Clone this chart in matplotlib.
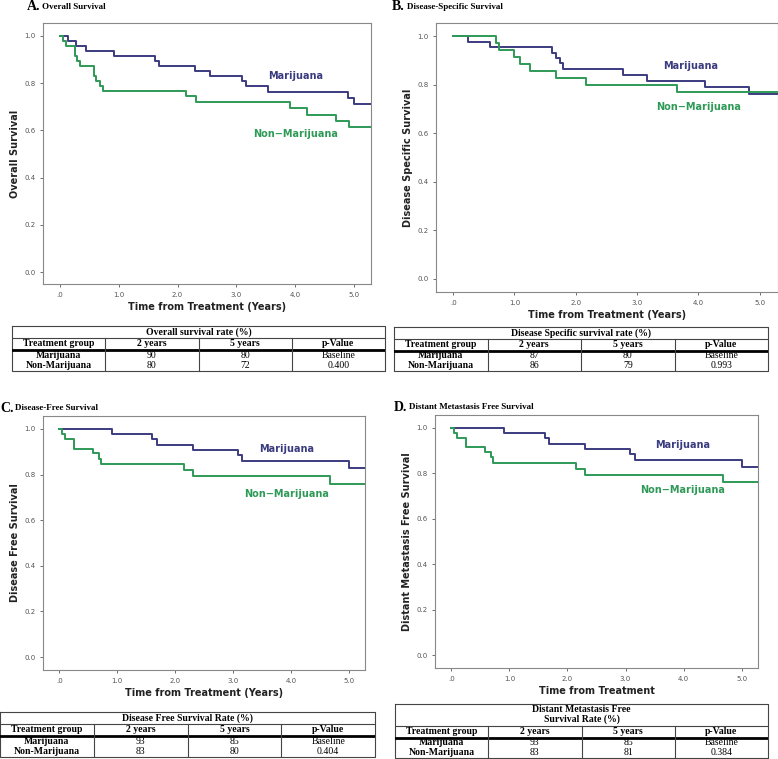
import matplotlib
matplotlib.use("Agg")
import matplotlib.pyplot as plt

W, H = 778, 759
MAR_C = "#3b3b80"
NON_C = "#2f9a57"

# ---- data ----
a_mar_t = [0, 0.15, 0.28, 0.45, 0.93, 1.62, 1.69, 2.30, 2.55, 3.09, 3.16, 3.54, 4.89, 5.00]
a_mar_s = [1.0, 0.979, 0.958, 0.937, 0.916, 0.895, 0.874, 0.853, 0.832, 0.811, 0.789, 0.763, 0.736, 0.710]
a_non_t = [0, 0.06, 0.11, 0.26, 0.30, 0.34, 0.59, 0.61, 0.68, 0.73, 2.15, 2.31, 3.90, 4.19, 4.68, 4.91]
a_non_s = [1.0, 0.979, 0.958, 0.916, 0.895, 0.874, 0.832, 0.811, 0.787, 0.766, 0.745, 0.719, 0.694, 0.667, 0.640, 0.613]

b_mar_t = [0, 0.25, 0.60, 1.61, 1.67, 1.75, 1.80, 2.77, 3.16, 4.11, 4.83]
b_mar_s = [1.0, 0.977, 0.955, 0.932, 0.910, 0.888, 0.865, 0.841, 0.816, 0.790, 0.763]
b_non_t = [0, 0.70, 0.74, 0.99, 1.09, 1.25, 1.68, 2.17, 3.65]
b_non_s = [1.0, 0.971, 0.943, 0.914, 0.886, 0.857, 0.829, 0.800, 0.770]

c_mar_t = [0, 0.91, 1.61, 1.68, 2.31, 3.08, 3.16, 5.00]
c_mar_s = [1.0, 0.977, 0.955, 0.930, 0.908, 0.884, 0.860, 0.830]
c_non_t = [0, 0.05, 0.10, 0.26, 0.58, 0.69, 0.72, 2.15, 2.31, 4.68]
c_non_s = [1.0, 0.978, 0.957, 0.914, 0.893, 0.870, 0.846, 0.820, 0.793, 0.760]

d_mar_t = [0, 0.91, 1.61, 1.68, 2.31, 3.08, 3.16, 5.00]
d_mar_s = [1.0, 0.977, 0.955, 0.930, 0.908, 0.884, 0.860, 0.830]
d_non_t = [0, 0.05, 0.10, 0.26, 0.58, 0.69, 0.72, 2.15, 2.31, 4.68]
d_non_s = [1.0, 0.978, 0.957, 0.914, 0.893, 0.870, 0.846, 0.820, 0.793, 0.760]

x_ticks = [0, 1, 2, 3, 4, 5]
x_tick_labels = [".0", "1.0", "2.0", "3.0", "4.0", "5.0"]
y_ticks = [0.0, 0.2, 0.4, 0.6, 0.8, 1.0]
y_tick_labels = ["0.0", "0.2", "0.4", "0.6", "0.8", "1.0"]

groups = ["Marijuana", "Non-Marijuana"]
a_2y = ["90", "80"]; a_5y = ["80", "72"]; a_p = ["Baseline", "0.400"]
b_2y = ["87", "86"]; b_5y = ["80", "79"]; b_p = ["Baseline", "0.993"]
c_2y = ["93", "83"]; c_5y = ["85", "80"]; c_p = ["Baseline", "0.404"]
d_2y = ["93", "83"]; d_5y = ["85", "81"]; d_p = ["Baseline", "0.384"]

fig = plt.figure(figsize=(W / 100, H / 100), dpi=100)

def rect(x0, y0, x1, y1):
    return [x0 / W, 1 - y1 / H, (x1 - x0) / W, (y1 - y0) / H]

def panel(box, xlim, ylim, mt, ms, nt, ns, ylabel, xlabel, mpos, npos):
    ax = fig.add_axes(rect(*box))
    ax.step(mt + [xlim[1]], ms + [ms[-1]], where="post", color=MAR_C, lw=1.4)
    ax.step(nt + [xlim[1]], ns + [ns[-1]], where="post", color=NON_C, lw=1.4)
    ax.set_xlim(*xlim); ax.set_ylim(*ylim)
    ax.set_xticks(x_ticks); ax.set_xticklabels(x_tick_labels)
    ax.set_yticks(y_ticks); ax.set_yticklabels(y_tick_labels)
    ax.tick_params(labelsize=5, colors="#555555", length=2, width=0.6)
    for s in ax.spines.values():
        s.set_color("#888888"); s.set_linewidth(0.8)
    ax.set_ylabel(ylabel, fontsize=7, fontweight="bold", color="#222222", labelpad=3)
    ax.set_xlabel(xlabel, fontsize=7, fontweight="bold", color="#222222", labelpad=3)
    ax.text(mpos[0], mpos[1], "Marijuana", color=MAR_C, fontsize=7, fontweight="bold", ha="center", va="center")
    ax.text(npos[0], npos[1], "Non\u2212Marijuana", color=NON_C, fontsize=7, fontweight="bold", ha="center", va="center")

def title(x, y, letter, text):
    fig.text(x / W, 1 - y / H, letter, fontsize=10, fontweight="bold", family="Liberation Serif", va="center")
    fig.text((x + 15) / W, 1 - y / H, text, fontsize=6.5, fontweight="bold", family="Liberation Serif", va="center")

def table(box, ttl, nt_rows, two, five, pv):
    x0, y0, x1, y1 = box
    ax = fig.add_axes(rect(x0, y0, x1, y1))
    h = y1 - y0
    ax.set_xlim(0, 1); ax.set_ylim(h, 0); ax.axis("off")
    th = 12 * nt_rows
    hh = 12
    kw = dict(family="Liberation Serif", fontsize=7, ha="center", va="center")
    lc = "#444444"
    ax.plot([0, 1, 1, 0, 0], [0, 0, h, h, 0], color=lc, lw=0.8, clip_on=False)
    ax.plot([0, 1], [th, th], color=lc, lw=0.8)
    ax.plot([0, 1], [th + hh, th + hh], color="black", lw=2)
    for cx in [0.25, 0.5, 0.75]:
        ax.plot([cx, cx], [th, h], color=lc, lw=0.8)
    ax.text(0.5, th / 2, ttl, fontweight="bold", linespacing=1.1, **kw)
    for cx, t in zip([0.125, 0.375, 0.625, 0.875], ["Treatment group", "2 years", "5 years", "p-Value"]):
        ax.text(cx, th + hh / 2, t, fontweight="bold", **kw)
    rh = (h - th - hh) / 2
    for i in range(2):
        yy = th + hh + rh * (i + 0.5)
        ax.text(0.125, yy, groups[i], fontweight="bold", **kw)
        ax.text(0.375, yy, two[i], **kw)
        ax.text(0.625, yy, five[i], **kw)
        ax.text(0.875, yy, pv[i], **kw)

xl = "Time from Treatment (Years)"
panel((43, 23, 371, 284), (-0.28, 5.28), (-0.05, 1.055), a_mar_t, a_mar_s, a_non_t, a_non_s,
      "Overall Survival", xl, (4.0, 0.83), (4.0, 0.585))
panel((436, 23, 778, 292), (-0.28, 5.3), (-0.054, 1.054), b_mar_t, b_mar_s, b_non_t, b_non_s,
      "Disease Specific Survival", xl, (3.87, 0.876), (4.0, 0.71))
panel((43, 416, 365, 670), (-0.28, 5.28), (-0.057, 1.057), c_mar_t, c_mar_s, c_non_t, c_non_s,
      "Disease Free Survival", xl, (3.92, 0.911), (3.92, 0.716))
panel((435, 415, 758, 668), (-0.28, 5.28), (-0.057, 1.057), d_mar_t, d_mar_s, d_non_t, d_non_s,
      "Distant Metastasis Free Survival", "Time from Treatment", (3.98, 0.924), (3.98, 0.727))

title(27, 7, "A.", "Overall Survival")
title(392, 7, "B.", "Disease-Specific Survival")
title(0, 408, "C.", "Disease-Free Survival")
title(394, 407, "D.", "Distant Metastasis Free Survival")

table((12, 326, 385, 371), "Overall survival rate (%)", 1, a_2y, a_5y, a_p)
table((394, 327, 768, 371), "Disease Specific survival rate (%)", 1, b_2y, b_5y, b_p)
table((0, 712, 375, 757), "Disease Free Survival Rate (%)", 1, c_2y, c_5y, c_p)
table((395, 704, 768, 758), "Distant Metastasis Free\nSurvival Rate (%)", 1.8, d_2y, d_5y, d_p)

fig.savefig("out.png", dpi=100, facecolor="white")
